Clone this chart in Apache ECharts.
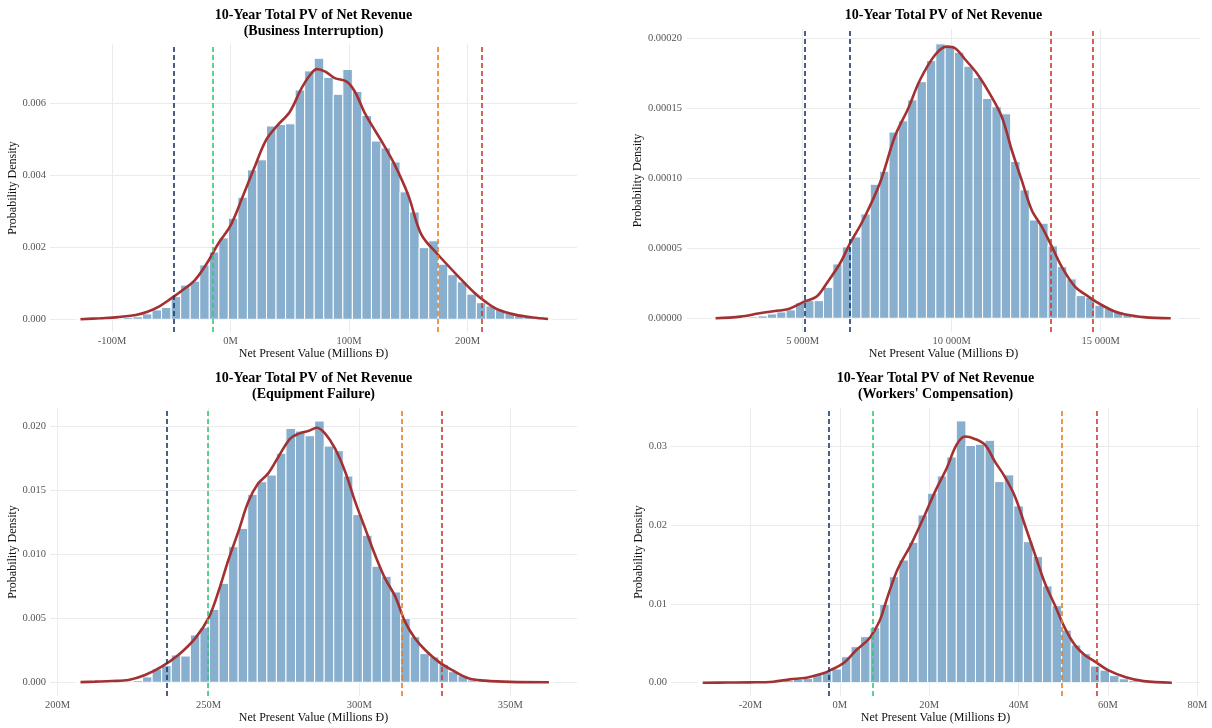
<!DOCTYPE html>
<html>
<head>
<meta charset="utf-8">
<script src="https://cdn.jsdelivr.net/npm/echarts@6/dist/echarts.min.js"></script>
<style>
  html, body { margin: 0; padding: 0; background: #ffffff; }
  #chart { width: 1212px; height: 728px; }
</style>
</head>
<body>
<div id="chart"></div>
<script>
// ---------------- data ----------------
const titleMain = '10-Year Total PV of Net Revenue';
const panelSubtitles = ['(Business Interruption)', '', '(Equipment Failure)', "(Workers' Compensation)"];
const xAxisTitle = 'Net Present Value (Millions Đ)';
const yAxisTitle = 'Probability Density';

// Business Interruption (millions)
const biBinStart = -130.6;
const biBinWidth = 8.05;
const biDensity = [0.00001, 0.00001, 0.00002, 0.00002, 0.00003, 0.00005, 0.00007, 0.00015, 0.00026, 0.00033,
  0.00063, 0.00095, 0.00106, 0.00151, 0.00187, 0.00226, 0.00281, 0.00339, 0.00415, 0.00443,
  0.00537, 0.00541, 0.00543, 0.00637, 0.00690, 0.00725, 0.00672, 0.00625, 0.00694, 0.00633,
  0.00566, 0.00495, 0.00476, 0.00437, 0.00354, 0.00298, 0.00199, 0.00218, 0.00153, 0.00124,
  0.00104, 0.00070, 0.00046, 0.00037, 0.00026, 0.00017, 0.00010, 0.00006, 0.00003, 0.00002];
const biKdeX = [-126.6, -110, -95, -80, -70, -60, -50, -40, -30, -20, -10, 0, 10, 20, 30, 40, 50, 60, 67, 73,
  80, 88, 98, 105, 113, 120, 128, 138, 150, 161, 175, 192, 206, 215, 225, 240, 255, 268];
const biKdeY = [0, 0.00003, 0.00006, 0.00012, 0.00021, 0.00036, 0.00058, 0.00082, 0.00109, 0.00155,
  0.00212, 0.0026, 0.00338, 0.0042, 0.00498, 0.0054, 0.00576, 0.00642, 0.00678, 0.00695,
  0.00688, 0.0067, 0.0066, 0.00632, 0.00575, 0.00535, 0.00492, 0.00433, 0.00345, 0.00236,
  0.0018, 0.0012, 0.00073, 0.00049, 0.00028, 0.00013, 0.00005, 0.00001];
const biMarkers = [-47.9, -14.8, 175.1, 212.0];
const biTicksX = [-100, 0, 100, 200];
const biTicksY = [0, 0.002, 0.004, 0.006];

// Total (millions)
const totBinStart = 1930;
const totBinWidth = 314;
const totDensity = [0.0000002, 0.0000003, 0.0000005, 0.0000007, 0.000001, 0.0000017, 0.0000031, 0.0000045, 0.000006, 0.000011,
  0.0000126, 0.0000126, 0.0000221, 0.0000388, 0.000051, 0.0000581, 0.0000745, 0.0000957, 0.000105, 0.000133,
  0.000141, 0.000156, 0.000169, 0.000184, 0.000196, 0.000195, 0.000190, 0.000180, 0.000172, 0.000157,
  0.000151, 0.000146, 0.000112, 0.0000917, 0.0000702, 0.0000679, 0.0000517, 0.0000369, 0.0000281, 0.0000162,
  0.0000148, 0.0000093, 0.0000071, 0.0000048, 0.0000029, 0.0000017, 0.000001, 0.0000005, 0.0000003, 0.0000002];
const totKdeX = [2074, 2910, 3557, 4204, 4552, 5050, 5468, 5806, 6254, 6592, 7030, 7588, 8095, 8543, 8931,
  9439, 9827, 10106, 10444, 10842, 11231, 11678, 12017, 12345, 12684, 13022, 13361, 13689, 14137, 14585,
  14973, 15451, 15799, 16446, 17350];
const totKdeY = [0, 0.0000012, 0.0000036, 0.0000055, 0.0000068, 0.0000119, 0.0000155, 0.000025, 0.0000393, 0.0000536,
  0.0000702, 0.0000964, 0.00013, 0.00015, 0.00017, 0.000188, 0.000194, 0.000193, 0.000185, 0.000175,
  0.000162, 0.000144, 0.00012, 0.0000988, 0.0000774, 0.0000655, 0.0000512, 0.0000369, 0.0000226, 0.0000155,
  0.0000102, 0.000005, 0.0000029, 0.0000008, 0];
const totMarkers = [5054, 6564, 13322, 14732];
const totTicksX = [5000, 10000, 15000];
const totTicksY = [0, 0.00005, 0.0001, 0.00015, 0.0002];

// Equipment Failure (millions)
const efBinStart = 206.0;
const efBinWidth = 3.167;
const efDensity = [0.00001, 0.00001, 0.00002, 0.00003, 0.00005, 0.00008, 0.00013, 0.00042, 0.00104, 0.0013,
  0.00213, 0.00205, 0.00369, 0.00426, 0.00569, 0.00772, 0.01058, 0.01201, 0.01466, 0.01565,
  0.01617, 0.01786, 0.01981, 0.0196, 0.01924, 0.02038, 0.01843, 0.01807, 0.01609, 0.01308,
  0.01147, 0.00905, 0.00827, 0.00705, 0.00499, 0.00356, 0.00224, 0.00198, 0.0014, 0.00083,
  0.00052, 0.00018, 0.00013, 0.0001, 0.00006, 0.00003, 0.00002, 0.00001, 0.00001, 0.00001];
const efKdeX = [207.6, 212.4, 218, 223.5, 229, 234.5, 240, 245.6, 250, 253.3, 256.6, 259.9, 263.2, 266.5, 269.8,
  273.2, 277, 280, 283, 285.9, 288.6, 291.9, 295.3, 298.6, 301.9, 305.2, 308.5, 311.9, 315.1, 318.4,
  321.8, 326.2, 330.6, 336.1, 341.6, 350, 362.8];
const efKdeY = [0.00001, 0.00005, 0.0001, 0.00018, 0.00057, 0.00122, 0.00213, 0.00343, 0.005, 0.00707,
  0.00954, 0.01175, 0.01409, 0.01552, 0.0163, 0.0176, 0.0190, 0.0194, 0.0196, 0.01986,
  0.01942, 0.01825, 0.01643, 0.01409, 0.01201, 0.00993, 0.00811, 0.00668, 0.00473, 0.00343,
  0.00252, 0.00161, 0.00096, 0.00031, 0.00013, 0.00003, 0];
const efMarkers = [236.3, 249.9, 314.0, 327.4];
const efTicksX = [200, 250, 300, 350];
const efTicksY = [0, 0.005, 0.01, 0.015, 0.02];

// Workers' Compensation (millions)
const wcBinStart = -31.8;
const wcBinWidth = 2.143;
const wcDensity = [0.00001, 0.00001, 0.00001, 0.00002, 0.00002, 0.00004, 0.00006, 0.00008, 0.00013, 0.00025,
  0.00042, 0.00055, 0.00106, 0.0014, 0.00174, 0.0033, 0.00458, 0.00585, 0.00699, 0.00996,
  0.01347, 0.01559, 0.01784, 0.02131, 0.02407, 0.02627, 0.02868, 0.03326, 0.03013, 0.0303,
  0.0308, 0.02555, 0.0264, 0.02246, 0.01792, 0.01602, 0.01229, 0.00979, 0.00669, 0.00479,
  0.00369, 0.00212, 0.0016, 0.0009, 0.0005, 0.00025, 0.00013, 0.00006, 0.00003, 0.00002];
const wcKdeX = [-30.7, -25, -20.2, -14.9, -11.2, -7.5, -3.7, -2.2, 0.75, 3.7, 6.7, 9, 10.1, 11.2, 13,
  16.05, 19, 21.3, 23.9, 26.1, 28, 30.2, 32.5, 34.7, 36.9, 39.2, 41.4, 43.7, 45.9, 48.1,
  50.4, 52.6, 54.8, 57.1, 60, 64, 68, 74.3];
const wcKdeY = [0, 0.00002, 0.00004, 0.00013, 0.00042, 0.00064, 0.00119, 0.00157, 0.00246, 0.00415,
  0.00572, 0.0080, 0.0099, 0.0118, 0.0145, 0.01771, 0.02131, 0.02428, 0.02724, 0.03021,
  0.03127, 0.03097, 0.03021, 0.02809, 0.02618, 0.02364, 0.02004, 0.01623, 0.01263, 0.00987,
  0.00691, 0.00479, 0.00352, 0.00267, 0.0016, 0.0007, 0.0002, 0];
const wcMarkers = [-2.5, 7.4, 49.6, 57.5];
const wcTicksX = [-20, 0, 20, 40, 60, 80];
const wcTicksY = [0, 0.01, 0.02, 0.03];

// ---------------- styling ----------------
const FONT = '"Liberation Serif", "Times New Roman", serif';
const BAR_FILL = 'rgba(70,130,180,0.64)';
const KDE_COLOR = '#a33131';
const NAVY = '#1b3a6b', GREEN = '#2ecc71', ORANGE = '#e67e22', RED = '#cc3b2e';
const GRID_COLOR = '#ebebeb';

function spaced(v) { return String(v).replace(/\B(?=(\d{3})+(?!\d))/g, ' '); }

const panels = [
  { density: biDensity, start: biBinStart, width: biBinWidth, kx: biKdeX, ky: biKdeY,
    markers: biMarkers, markerColors: [NAVY, GREEN, ORANGE, RED],
    ticksX: biTicksX, ticksY: biTicksY, fmtX: v => v + 'M', fmtY: v => v.toFixed(3),
    box: { left: 50, top: 44, width: 527, height: 288 }, xr: [-152.3, 292.4], yr: [-0.000353, 0.007647],
    yGap: 28, yMargin: 4, titleTop: 7 },
  { density: totDensity, start: totBinStart, width: totBinWidth, kx: totKdeX, ky: totKdeY,
    markers: totMarkers, markerColors: [NAVY, NAVY, RED, RED],
    ticksX: totTicksX, ticksY: totTicksY, fmtX: v => spaced(v) + 'M', fmtY: v => v.toFixed(5),
    box: { left: 687, top: 29, width: 513, height: 303 }, xr: [1117, 18332], yr: [-0.0000098, 0.0002066],
    yGap: 39, yMargin: 5, titleTop: 7 },
  { density: efDensity, start: efBinStart, width: efBinWidth, kx: efKdeX, ky: efKdeY,
    markers: efMarkers, markerColors: [NAVY, GREEN, ORANGE, RED],
    ticksX: efTicksX, ticksY: efTicksY, fmtX: v => v + 'M', fmtY: v => v.toFixed(3),
    box: { left: 50, top: 408, width: 527, height: 288 }, xr: [197.5, 372.1], yr: [-0.00107, 0.0214],
    yGap: 28, yMargin: 4, titleTop: 370 },
  { density: wcDensity, start: wcBinStart, width: wcBinWidth, kx: wcKdeX, ky: wcKdeY,
    markers: wcMarkers, markerColors: [NAVY, GREEN, ORANGE, RED],
    ticksX: wcTicksX, ticksY: wcTicksY, fmtX: v => v + 'M', fmtY: v => v.toFixed(2),
    box: { left: 671, top: 408, width: 529, height: 288 }, xr: [-37.8, 80.6], yr: [-0.00169, 0.0349],
    yGap: 23, yMargin: 4, titleTop: 370 }
];

const grids = [], xAxes = [], yAxes = [], series = [], graphics = [];

panels.forEach((p, i) => {
  grids.push(Object.assign({ containLabel: false }, p.box));

  xAxes.push({
    type: 'value', gridIndex: i, min: p.xr[0], max: p.xr[1],
    name: xAxisTitle, nameLocation: 'middle', nameGap: 15,
    nameTextStyle: { fontFamily: FONT, fontSize: 12, color: '#111' },
    axisLine: { show: false, onZero: false }, axisTick: { show: false, customValues: p.ticksX },
    axisLabel: { customValues: p.ticksX, formatter: p.fmtX, margin: 4,
      fontFamily: FONT, fontSize: 10.5, color: '#555555' },
    splitLine: { show: true, lineStyle: { color: GRID_COLOR, width: 1 } }
  });

  yAxes.push({
    type: 'value', gridIndex: i, min: p.yr[0], max: p.yr[1],
    name: yAxisTitle, nameLocation: 'middle', nameGap: p.yGap,
    nameTextStyle: { fontFamily: FONT, fontSize: 12, color: '#111' },
    axisLine: { show: false }, axisTick: { show: false, customValues: p.ticksY },
    axisLabel: { customValues: p.ticksY, formatter: p.fmtY, margin: p.yMargin,
      fontFamily: FONT, fontSize: 10.5, color: '#555555' },
    splitLine: { show: true, lineStyle: { color: GRID_COLOR, width: 1 } }
  });

  // histogram bars: each bin spans [start + k*width, start + (k+1)*width]
  series.push({
    type: 'custom', xAxisIndex: i, yAxisIndex: i, z: 2,
    data: p.density.map((d, k) => [p.start + k * p.width, p.start + (k + 1) * p.width, d]),
    encode: { x: [0, 1], y: 2 },
    renderItem: (params, api) => {
      const a = api.coord([api.value(0), 0]);
      const b = api.coord([api.value(1), api.value(2)]);
      return {
        type: 'rect',
        shape: { x: a[0], y: b[1], width: b[0] - a[0], height: a[1] - b[1] },
        style: { fill: BAR_FILL, stroke: '#ffffff', lineWidth: 1 }
      };
    }
  });

  // kernel density curve with the dashed reference lines
  series.push({
    type: 'line', xAxisIndex: i, yAxisIndex: i, z: 3,
    data: p.kx.map((x, k) => [x, p.ky[k]]),
    smooth: 0.35, showSymbol: false, symbol: 'none',
    lineStyle: { color: KDE_COLOR, width: 2.6 },
    markLine: {
      silent: true, symbol: ['none', 'none'], label: { show: false },
      lineStyle: { type: [5, 3], width: 1.6 },
      data: p.markers.map((m, k) => ({ xAxis: m, lineStyle: { color: p.markerColors[k], type: [5, 3], width: 1.6 } }))
    }
  });

  const cx = p.box.left + p.box.width / 2;
  const text = panelSubtitles[i] ? titleMain + '\n' + panelSubtitles[i] : titleMain;
  graphics.push({
    type: 'text', x: cx, y: p.titleTop,
    style: { text: text, font: 'bold 14px ' + FONT, fill: '#000', align: 'center', verticalAlign: 'top', lineHeight: 16 }
  });
});

const chart = echarts.init(document.getElementById('chart'), null, { renderer: 'canvas' });
chart.setOption({
  animation: false,
  backgroundColor: '#ffffff',
  grid: grids, xAxis: xAxes, yAxis: yAxes, series: series,
  graphic: graphics
});
</script>
</body>
</html>
